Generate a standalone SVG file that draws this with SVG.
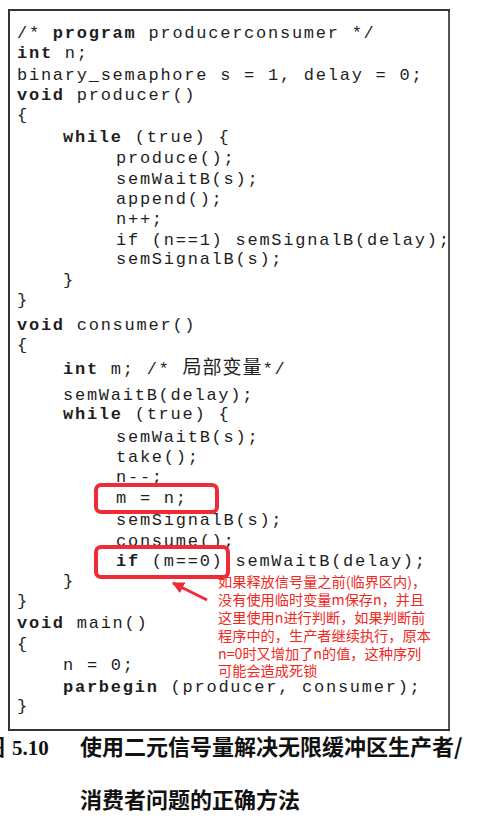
<svg xmlns="http://www.w3.org/2000/svg" width="481" height="818" viewBox="0 0 481 818">
<style>
.code{font-family:"Liberation Mono","Noto Sans CJK SC",monospace;font-size:17px;letter-spacing:1.75px;fill:#1e1e1e;white-space:pre}
.b{font-weight:bold}
.cjk{font-size:19px;letter-spacing:1px}
.hl{fill:none;stroke:#ee2b36;stroke-width:4}
.note{font-family:"Noto Sans CJK SC","Noto Sans",sans-serif;font-size:14.2px;fill:#f0281e}
.cap{font-family:"Noto Sans CJK SC",sans-serif;font-size:22px;font-weight:bold;fill:#111}
</style>
<defs>
<marker id="ah" viewBox="0 0 10 10" refX="9" refY="5" markerWidth="4" markerHeight="4" orient="auto" markerUnits="strokeWidth">
<path d="M0,0 L10,5 L0,10 z" fill="#ee2b36"/>
</marker>
</defs>
<rect width="481" height="818" fill="#ffffff"/>
<g id="frame">
<rect x="9" y="10" width="440" height="720" fill="#fff" stroke="#333" stroke-width="2"/>
<line x1="449" y1="12" x2="449" y2="729" stroke="#555" stroke-width="2"/>
</g>
<g id="code" class="code">
<text x="17" y="38">/* <tspan class="b">program</tspan> producerconsumer */</text>
<text x="17" y="58"><tspan class="b">int</tspan> n;</text>
<text x="17" y="80">binary_semaphore s = 1, delay = 0;</text>
<text x="17" y="100"><tspan class="b">void</tspan> producer()</text>
<text x="17" y="120">{</text>
<text x="63" y="142"><tspan class="b">while</tspan> (true) {</text>
<text x="116" y="163">produce();</text>
<text x="116" y="184">semWaitB(s);</text>
<text x="116" y="204">append();</text>
<text x="116" y="224">n++;</text>
<text x="116" y="245">if (n==1) semSignalB(delay);</text>
<text x="116" y="264">semSignalB(s);</text>
<text x="63" y="285">}</text>
<text x="17" y="305">}</text>
<text x="17" y="330"><tspan class="b">void</tspan> consumer()</text>
<text x="17" y="350">{</text>
<text x="63" y="374"><tspan class="b">int</tspan> m; /* <tspan class="cjk">局部变量</tspan>*/</text>
<text x="63" y="400">semWaitB(delay);</text>
<text x="63" y="419"><tspan class="b">while</tspan> (true) {</text>
<text x="116" y="442">semWaitB(s);</text>
<text x="116" y="462">take();</text>
<text x="116" y="482">n--;</text>
<text x="116" y="503">m = n;</text>
<text x="116" y="525">semSignalB(s);</text>
<text x="116" y="546">consume();</text>
<text x="116" y="566"><tspan class="b">if</tspan> (m==0) semWaitB(delay);</text>
<text x="63" y="586">}</text>
<text x="17" y="606">}</text>
<text x="17" y="628"><tspan class="b">void</tspan> main()</text>
<text x="17" y="649">{</text>
<text x="63" y="670">n = 0;</text>
<text x="63" y="692"><tspan class="b">parbegin</tspan> (producer, consumer);</text>
<text x="17" y="711">}</text>
</g>
<g id="highlight-m-eq-n">
<rect class="hl" x="96" y="485" width="121" height="27" rx="5"/>
</g>
<g id="highlight-if-m">
<rect class="hl" x="96" y="547" width="132" height="30" rx="5"/>
</g>
<g id="connectors">
<line x1="207" y1="600" x2="173" y2="583" stroke="#ee2b36" stroke-width="3" marker-end="url(#ah)"/>
</g>
<g id="annotation" class="note">
<text x="218" y="587">如果释放信号量之前(临界区内)，</text>
<text x="218" y="605">没有使用临时变量m保存n，并且</text>
<text x="218" y="623">这里使用n进行判断，如果判断前</text>
<text x="218" y="641">程序中的，生产者继续执行，原本</text>
<text x="218" y="659">n=0时又增加了n的值，这种序列</text>
<text x="218" y="676">可能会造成死锁</text>
</g>
<g id="caption">
<text class="cap" x="-17" y="755">图</text>
<text x="12" y="755" font-family="Liberation Serif,serif" font-size="21" font-weight="bold" fill="#111">5.10</text>
<text class="cap" x="80" y="755">使用二元信号量解决无限缓冲区生产者/</text>
<text class="cap" x="80" y="808">消费者问题的正确方法</text>
</g>
</svg>
